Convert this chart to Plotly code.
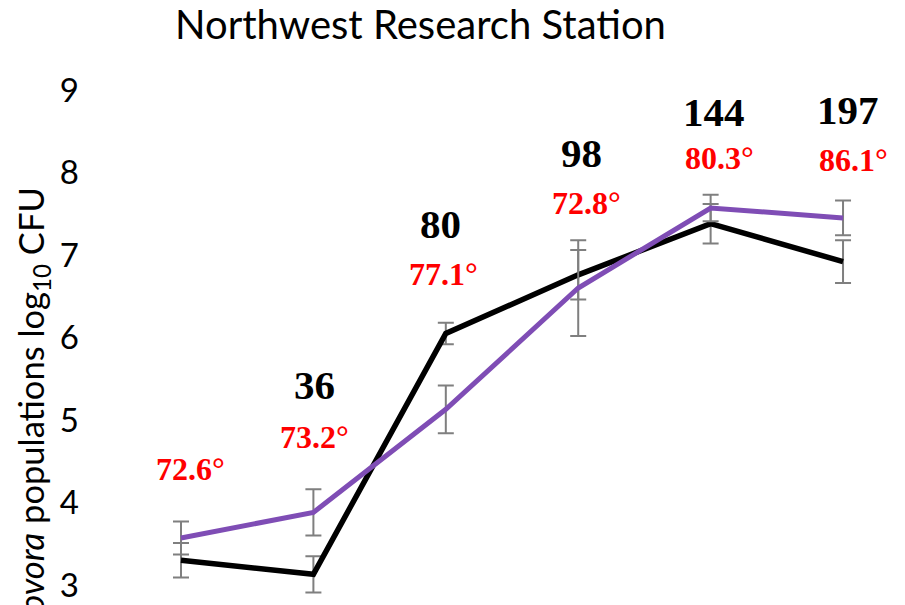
import plotly.graph_objects as go

# Sampling dates (axis labels fall below the visible area)
samples = ["S1", "S2", "S3", "S4", "S5", "S6"]

# Mean populations (log10 CFU) and standard errors for the two treatments
purple_mean = [3.57, 3.88, 5.13, 6.60, 7.57, 7.45]
purple_err = [0.20, 0.28, 0.29, 0.58, 0.16, 0.21]
black_mean = [3.30, 3.13, 6.05, 6.76, 7.38, 6.92]
black_err = [0.21, 0.22, 0.13, 0.30, 0.24, 0.26]

# Labels over each sampling date
accum_labels = ["", "36", "80", "98", "144", "197"]
temp_labels = ["72.6°", "73.2°", "77.1°", "72.8°", "80.3°", "86.1°"]

# Label placement (y in axis units, x offset in px)
accum_y = [None, 5.42, 7.38, 8.24, 8.73, 8.76]
accum_dx = [0, 1, -5, 3, 3, 5]
temp_y = [4.41, 4.79, 6.77, 7.63, 8.18, 8.15]
temp_dx = [9, 1, -2, 8, 9, 10]

PURPLE = "#7F4DB5"
ERR = "#7F7F7F"

fig = go.Figure()

fig.add_trace(go.Scatter(
    x=samples, y=black_mean, mode="lines",
    line=dict(color="black", width=5.5),
    error_y=dict(type="data", array=black_err, visible=True,
                 color=ERR, thickness=2, width=8),
    showlegend=False,
))
fig.add_trace(go.Scatter(
    x=samples, y=purple_mean, mode="lines",
    line=dict(color=PURPLE, width=5),
    error_y=dict(type="data", array=purple_err, visible=True,
                 color=ERR, thickness=2, width=8),
    showlegend=False,
))

for i, s in enumerate(samples):
    if accum_labels[i]:
        fig.add_annotation(
            x=s, y=accum_y[i], xref="x", yref="y", text=accum_labels[i],
            showarrow=False, xshift=accum_dx[i], yanchor="middle",
            font=dict(family="Liberation Serif", size=41, color="black",
                      weight="bold"),
        )
    fig.add_annotation(
        x=s, y=temp_y[i], xref="x", yref="y", text=temp_labels[i],
        showarrow=False, xshift=temp_dx[i], yanchor="middle",
        font=dict(family="Liberation Serif", size=32, color="#FF0000",
                  weight="bold"),
    )

# Vertical axis title, running past the lower edge of the figure
fig.add_annotation(
    text="<i>Erwinia carotovora</i> populations log<sub>10</sub> CFU",
    xref="paper", yref="paper", x=(33 - 85) / 820, y=(605 - 185) / 545,
    xanchor="center", yanchor="top", textangle=-90, showarrow=False,
    font=dict(family="Lato", size=34.5, color="black"),
)

fig.update_layout(
    width=905, height=605,
    margin=dict(l=85, r=0, t=60, b=0),
    paper_bgcolor="white", plot_bgcolor="white",
    title=dict(text="Northwest Research Station", xref="container",
               x=420.5 / 905, xanchor="center", yref="container",
               y=1 - 25 / 605, yanchor="middle",
               font=dict(family="Lato", size=40, color="black")),
    xaxis=dict(type="category", range=[-0.725, 5.468], visible=False),
    yaxis=dict(range=[2.758, 9.364], tickvals=[3, 4, 5, 6, 7, 8, 9],
               showgrid=False, zeroline=False, showline=False, ticks="",
               ticklabelstandoff=5,
               tickfont=dict(family="Lato", size=33, color="black")),
)

fig.write_html("out.html")
